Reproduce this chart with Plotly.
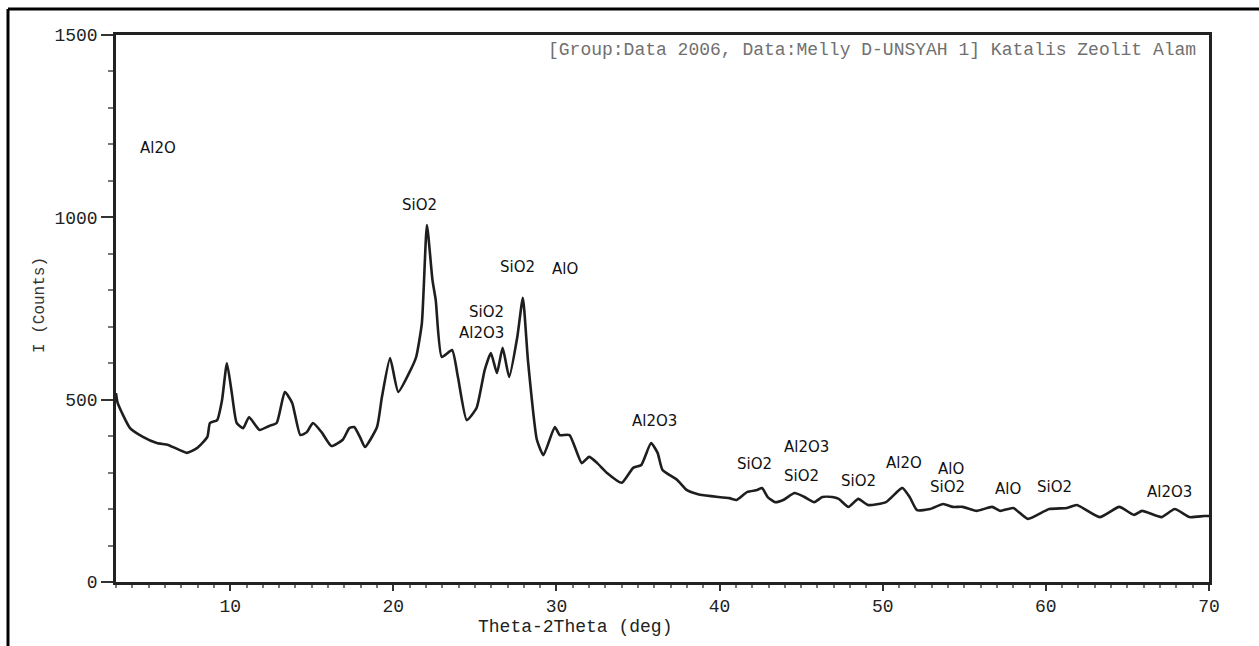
import plotly.graph_objects as go

# ---- data ----
two_theta = [3.0, 3.1, 3.86, 4.65, 5.5, 6.2, 7.35, 7.96, 8.6, 8.76, 9.2, 9.5, 9.8, 10.1, 10.4, 10.8,
             11.15, 11.8, 12.4, 12.85, 13.35, 13.8, 14.3, 14.7, 15.07, 15.6, 16.2, 16.9, 17.3, 17.6,
             17.95, 18.26, 19.0, 19.3, 19.8, 20.3, 21.0, 21.4, 21.75, 22.06, 22.4, 22.6, 22.97, 23.6,
             23.96, 24.5, 25.1, 25.6, 25.98, 26.35, 26.7, 27.1, 27.6, 27.94, 28.25, 28.8, 29.2, 29.9,
             30.2, 30.8, 31.55, 32.0, 32.5, 33.1, 34.0, 34.7, 35.2, 35.8, 36.2, 36.5, 37.4, 38.0, 38.8,
             40.6, 41.05, 41.7, 42.3, 42.6, 42.95, 43.4, 43.9, 44.6, 45.2, 45.8, 46.3, 46.9, 47.3, 47.9,
             48.5, 49.1, 50.2, 51.2, 51.65, 52.1, 52.9, 53.7, 54.3, 54.9, 55.75, 56.7, 57.2, 58.0, 58.9,
             60.2, 61.3, 61.9, 63.3, 64.5, 65.4, 65.9, 67.1, 67.9, 68.8, 69.7, 70.0]
counts = [518, 491, 422, 398, 381, 376, 354, 367, 398, 436, 444, 499, 600, 518, 436, 422,
          452, 417, 428, 436, 521, 491, 403, 411, 436, 411, 373, 390, 422, 425,
          398, 370, 425, 507, 614, 521, 576, 617, 710, 979, 828, 773, 617, 636,
          562, 444, 477, 581, 628, 573, 642, 562, 672, 779, 609, 390, 348, 425,
          403, 403, 326, 343, 326, 299, 272, 313, 321, 381, 354, 307, 280, 252, 239,
          230, 225, 247, 252, 258, 233, 219, 225, 244, 233, 219, 233, 233, 228, 206,
          228, 211, 219, 258, 233, 197, 200, 214, 206, 206, 195, 206, 195, 203, 173,
          200, 203, 211, 178, 206, 184, 195, 178, 200, 178, 181, 181]

peak_labels = ["Al2O", "SiO2", "SiO2", "AlO", "SiO2", "Al2O3", "Al2O3", "SiO2", "Al2O3", "SiO2",
               "SiO2", "Al2O", "AlO", "SiO2", "AlO", "SiO2", "Al2O3"]
label_x = [5.6, 21.6, 27.6, 30.5, 25.7, 25.4, 36.0, 42.15, 45.3, 45.0,
           48.5, 51.3, 54.2, 54.0, 57.7, 60.5, 67.6]
label_y = [1190, 1034, 864, 858, 741, 683, 442, 324, 370, 291,
           277, 326, 310, 261, 255, 261, 247]

title_text = "[Group:Data 2006, Data:Melly D-UNSYAH 1] Katalis Zeolit Alam"
x_title = "Theta-2Theta (deg)"
y_title = "I (Counts)"

# ---- layout geometry (pixels) ----
W, H = 1259, 646
L, R, T, B = 116, 1209, 35, 582


def px(xp):
    return (xp - L) / (R - L)


def py(yp):
    return (B - yp) / (B - T)


fig = go.Figure()
fig.add_trace(go.Scatter(x=two_theta, y=counts, mode="lines",
                         line=dict(color="#1e1e1e", width=2.6, shape="spline", smoothing=0.5),
                         hoverinfo="skip", showlegend=False))

for t, xv, yv in zip(peak_labels, label_x, label_y):
    fig.add_annotation(x=xv, y=yv, text=t, showarrow=False, xref="x", yref="y",
                       font=dict(family="DejaVu Sans", size=15, color="#111111"))

fig.add_annotation(x=px(1198), y=py(50), xref="paper", yref="paper", text=title_text,
                   showarrow=False, xanchor="right", yanchor="middle",
                   font=dict(family="Liberation Mono", size=18, color="#707070"))
fig.add_annotation(x=px(575), y=py(627), xref="paper", yref="paper", text=x_title,
                   showarrow=False, xanchor="center", yanchor="middle",
                   font=dict(family="Liberation Mono", size=18, color="#222222"))
fig.add_annotation(x=px(40), y=py(305), xref="paper", yref="paper", text=y_title,
                   showarrow=False, textangle=-90, xanchor="center", yanchor="middle",
                   font=dict(family="Liberation Mono", size=16, color="#333333"))

# outer frame (left and top edges)
fig.add_shape(type="line", xref="paper", yref="paper", x0=px(8), x1=px(8), y0=py(646), y1=py(9),
              line=dict(color="black", width=3))
fig.add_shape(type="line", xref="paper", yref="paper", x0=px(8), x1=px(1259), y0=py(9), y1=py(9),
              line=dict(color="black", width=3))

fig.update_layout(
    width=W, height=H,
    margin=dict(l=L, r=W - R, t=T, b=H - B),
    paper_bgcolor="white", plot_bgcolor="white",
    showlegend=False,
)
fig.update_xaxes(range=[3, 70], tickvals=[10, 20, 30, 40, 50, 60, 70],
                 ticks="outside", ticklen=6, tickwidth=1.5, tickcolor="#333",
                 minor=dict(dtick=1, tick0=0, ticks="outside", ticklen=3, tickcolor="#777"),
                 showline=True, linecolor="#222", linewidth=2.5, mirror=True,
                 showgrid=False, zeroline=False,
                 tickfont=dict(family="Liberation Mono", size=18, color="#222"))
fig.update_yaxes(range=[0, 1500], tickvals=[0, 500, 1000, 1500],
                 ticks="outside", ticklen=12, tickwidth=1.5, tickcolor="#333",
                 minor=dict(dtick=100, ticks="outside", ticklen=5, tickcolor="#777"),
                 showline=True, linecolor="#222", linewidth=2.5, mirror=True,
                 showgrid=False, zeroline=False,
                 tickfont=dict(family="Liberation Mono", size=18, color="#222"))

fig.write_html("out.html")
